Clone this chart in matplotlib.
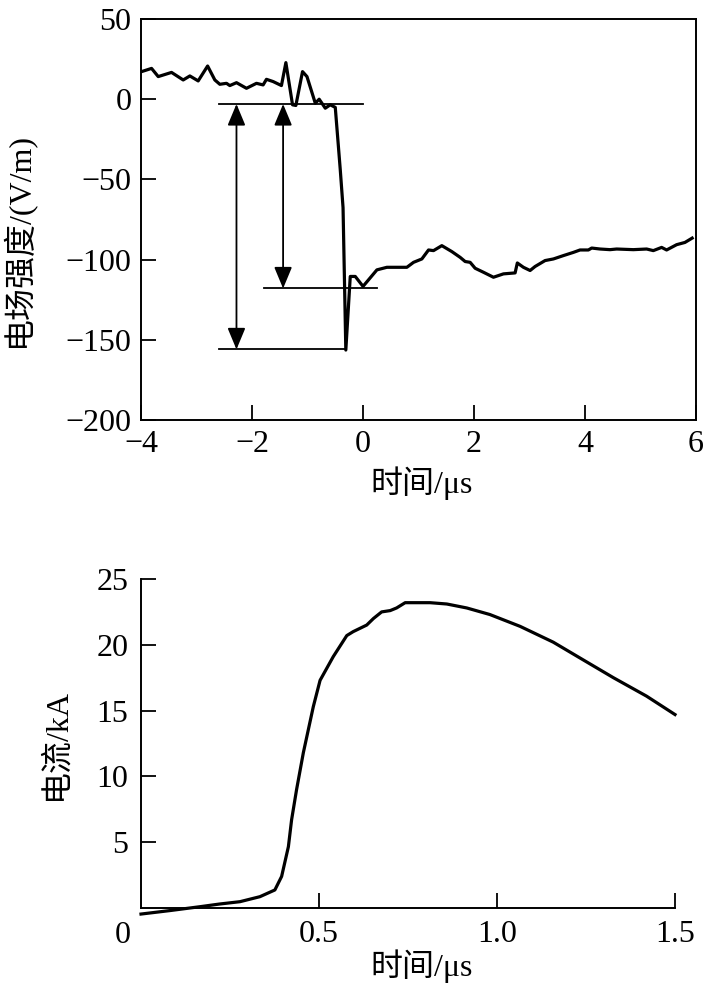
import matplotlib
matplotlib.use("Agg")
import matplotlib.pyplot as plt

plt.rcParams['font.family'] = ['Liberation Serif', 'Noto Sans CJK SC']
plt.rcParams['axes.unicode_minus'] = True

# electric field record (time in us, field in V/m)
e_time = [-3.99, -3.81, -3.69, -3.45, -3.24, -3.12, -2.97, -2.80, -2.67, -2.58,
          -2.46, -2.40, -2.28, -2.10, -1.92, -1.80, -1.74, -1.62, -1.47, -1.39,
          -1.27, -1.21, -1.09, -1.01, -0.86, -0.79, -0.68, -0.59, -0.50, -0.41,
          -0.36, -0.31, -0.23, -0.14, 0.0, 0.25, 0.43, 0.79, 0.91, 1.06,
          1.18, 1.27, 1.42, 1.60, 1.75, 1.84, 1.93, 2.02, 2.17, 2.35,
          2.53, 2.74, 2.78, 2.89, 3.01, 3.10, 3.28, 3.43, 3.61, 3.79,
          3.91, 4.06, 4.12, 4.27, 4.45, 4.57, 4.87, 5.11, 5.23, 5.38,
          5.47, 5.65, 5.80, 5.93]
e_field = [17.2, 19.2, 14.1, 16.7, 12.0, 14.5, 11.4, 20.7, 12.0, 9.3,
           9.9, 8.5, 10.3, 6.8, 9.9, 8.9, 12.4, 11.0, 8.5, 22.8,
           -3.5, -3.9, 17.2, 14.1, -2.5, 0.0, -5.6, -3.5, -5.1, -44.0,
           -67.6, -156.4, -110.5, -110.5, -116.7, -106.4, -104.8, -104.8, -101.7, -99.6,
           -94.0, -94.4, -91.3, -95.0, -98.6, -101.2, -101.7, -105.4, -107.9, -111.0,
           -108.9, -108.3, -102.1, -104.8, -106.8, -104.3, -100.6, -99.6, -97.5, -95.5,
           -94.0, -94.0, -92.8, -93.4, -93.8, -93.4, -93.8, -93.4, -94.4, -92.4,
           -94.0, -90.7, -89.3, -86.6]

# reference levels marked on the field plot
level_top = -3
level_mid = -118
level_low = -156

# lightning current (time in us, current in kA)
i_time = [0, 0.08, 0.166, 0.22, 0.278, 0.334, 0.376, 0.395, 0.414, 0.423,
          0.437, 0.456, 0.484, 0.503, 0.54, 0.578, 0.596, 0.634, 0.653, 0.676,
          0.70, 0.718, 0.742, 0.812, 0.859, 0.915, 0.98, 1.065, 1.158, 1.233,
          1.327, 1.42, 1.5]
i_kA = [-0.46, -0.2, 0.1, 0.3, 0.48, 0.86, 1.37, 2.4, 4.66, 6.7,
        9.0, 11.8, 15.3, 17.3, 19.1, 20.7, 21.0, 21.5, 22.0, 22.5,
        22.6, 22.8, 23.2, 23.2, 23.1, 22.8, 22.3, 21.4, 20.2, 19.0,
        17.5, 16.1, 14.7]

e_xticks = [-4, -2, 0, 2, 4, 6]
e_yticks = [50, 0, -50, -100, -150, -200]
i_xticks = [0.5, 1.0, 1.5]
i_yticks = [5, 10, 15, 20, 25]

fs = 23

fig = plt.figure(figsize=(7.04, 10), dpi=100)

# ---- top: electric field ----
ax1 = fig.add_axes([0.2003, 0.58, 0.7884, 0.401])
ax1.plot(e_time, e_field, color='k', lw=2.3, solid_joinstyle='round')

lw_ann = 1.3
ax1.plot([-2.6, 0.0], [level_top, level_top], color='k', lw=lw_ann)
ax1.plot([-1.78, 0.26], [level_mid, level_mid], color='k', lw=lw_ann)
ax1.plot([-2.6, -0.31], [level_low, level_low], color='k', lw=lw_ann)
for xa, yb in [(-2.28, level_low), (-1.44, level_mid)]:
    ax1.annotate('', xy=(xa, yb), xytext=(xa, level_top),
                 arrowprops=dict(arrowstyle='<|-|>,head_length=0.6,head_width=0.25',
                                 color='k', lw=lw_ann,
                                 mutation_scale=22, shrinkA=0, shrinkB=0))

ax1.set_xlim(-4, 6)
ax1.set_ylim(-200, 50)
ax1.set_xticks(e_xticks)
ax1.set_yticks(e_yticks)
ax1.tick_params(direction='in', length=11, width=1.3, labelsize=fs, pad=7)
for s in ax1.spines.values():
    s.set_linewidth(1.4)
ax1.set_xlabel('时间/μs', fontsize=fs)
ax1.set_ylabel('电场强度/(V/m)', fontsize=fs)
ax1.xaxis.set_label_coords(0.505, -0.115)
ax1.yaxis.set_label_coords(-0.19, 0.45)

# ---- bottom: current ----
ax2 = fig.add_axes([0.2003, 0.092, 0.7585, 0.329])
ax2.plot(i_time, i_kA, color='k', lw=2.3, clip_on=False)
ax2.set_xlim(0, 1.5)
ax2.set_ylim(0, 25)
ax2.set_xticks(i_xticks)
ax2.set_xticklabels(['0.5', '1.0', '1.5'])
ax2.set_yticks(i_yticks)
ax2.tick_params(direction='in', length=11, width=1.3, labelsize=fs, pad=9)
ax2.spines['top'].set_visible(False)
ax2.spines['right'].set_visible(False)
for s in ['left', 'bottom']:
    ax2.spines[s].set_linewidth(1.4)
ax2.text(-0.035, -0.04, '0', transform=ax2.transAxes, fontsize=fs,
         ha='center', va='top')
ax2.set_xlabel('时间/μs', fontsize=fs)
ax2.set_ylabel('电流/kA', fontsize=fs)
ax2.xaxis.set_label_coords(0.526, -0.125)
ax2.yaxis.set_label_coords(-0.13, 0.5)

fig.savefig('out.png', dpi=100)
